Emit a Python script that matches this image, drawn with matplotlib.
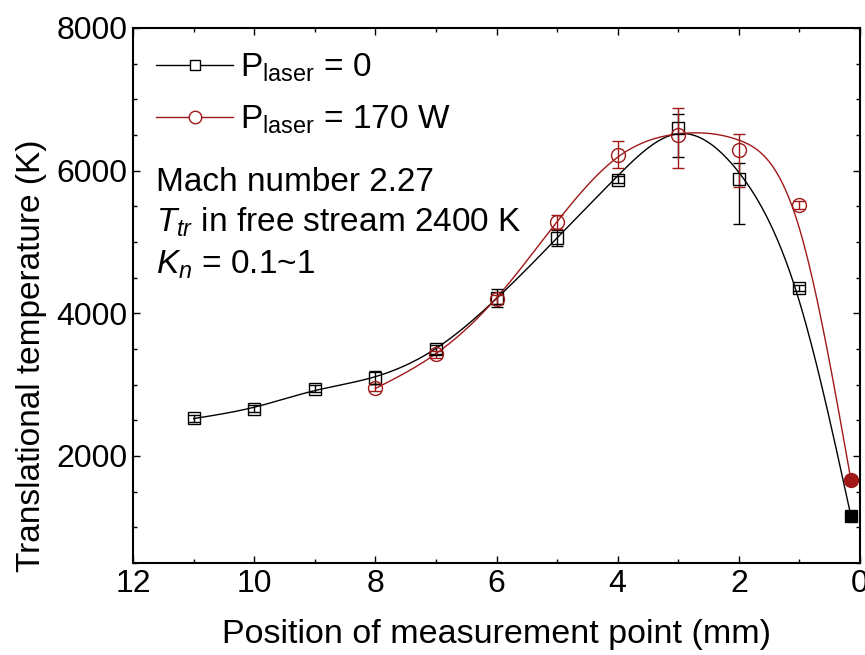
import matplotlib
matplotlib.use('Agg')
import matplotlib.pyplot as plt
import numpy as np
from matplotlib.ticker import MultipleLocator

plt.rcParams['font.family'] = ['Liberation Sans', 'DejaVu Sans']
plt.rcParams['mathtext.fontset'] = 'custom'
plt.rcParams['mathtext.rm'] = 'Liberation Sans'
plt.rcParams['mathtext.it'] = 'Liberation Sans:italic'

# position (mm), translational temperature (K), lower / upper error (K)
pos_off = [11, 10, 9, 8, 7, 6, 5, 4, 3, 2, 1, 0.15]
temp_off = [2530, 2665, 2945, 3100, 3493, 4211, 5056, 5873, 6596, 5888, 4352, 1160]
err_off_lo = [50, 50, 50, 85, 60, 120, 110, 50, 408, 638, 40, 70]
err_off_hi = [50, 50, 50, 85, 60, 130, 110, 50, 203, 225, 40, 70]

pos_on = [8, 7, 6, 5, 4, 3, 2, 1, 0.15]
temp_on = [2958, 3423, 4197, 5282, 6225, 6493, 6292, 5521, 1665]
err_on_lo = [50, 50, 60, 94, 190, 460, 527, 60, 60]
err_on_hi = [50, 50, 60, 94, 190, 390, 225, 60, 60]

RED = '#a01818'


def smooth_curve(x, y, lam, n=500):
  # penalised least squares on a fine grid (smoothing-spline style fit)
  x = np.asarray(x, float)
  y = np.asarray(y, float)
  xg = np.linspace(x.min(), x.max(), n)
  h = xg[1] - xg[0]
  B = np.zeros((len(x), n))
  for i, xi in enumerate(x):
    j = min(int((xi - xg[0]) / h), n - 2)
    t = (xi - xg[j]) / h
    B[i, j] = 1 - t
    B[i, j + 1] = t
  w = np.ones(len(x))
  w[np.argmin(x)] = 50.0
  W = np.diag(w)
  D = np.diff(np.eye(n), 2, axis=0) / h ** 2
  A = B.T @ W @ B + lam * h * D.T @ D
  z = np.linalg.solve(A, B.T @ W @ y)
  return xg, z


fig, ax = plt.subplots(figsize=(8.65, 6.55), dpi=100)
fig.subplots_adjust(left=0.1538, right=0.9942, bottom=0.1405, top=0.9573)

xs, ys = smooth_curve(pos_off, temp_off, 0.04)
ax.plot(xs, ys, color='k', lw=1)
xs, ys = smooth_curve(pos_on, temp_on, 0.035)
ax.plot(xs, ys, color=RED, lw=1)

yerr_off = [err_off_lo, err_off_hi]
yerr_on = [err_on_lo, err_on_hi]
ax.errorbar(pos_off[:-1], temp_off[:-1], yerr=[e[:-1] for e in yerr_off], fmt='s', ms=9,
            mfc='none', mec='k', ecolor='k', elinewidth=1, capsize=4.5, mew=1)
ax.errorbar(pos_off[-1:], temp_off[-1:], yerr=[e[-1:] for e in yerr_off], fmt='s', ms=9,
            mfc='k', mec='k', ecolor='k', elinewidth=1, capsize=4.5)
ax.errorbar(pos_on[:-1], temp_on[:-1], yerr=[e[:-1] for e in yerr_on], fmt='o', ms=10,
            mfc='none', mec=RED, ecolor=RED, elinewidth=1, capsize=4.5, mew=1)
ax.errorbar(pos_on[-1:], temp_on[-1:], yerr=[e[-1:] for e in yerr_on], fmt='o', ms=10,
            mfc=RED, mec=RED, ecolor=RED, elinewidth=1, capsize=4.5)

# legend handles
h1, = ax.plot([], [], color='k', lw=1, marker='s', ms=7, mfc='white', mec='k')
h2, = ax.plot([], [], color=RED, lw=1, marker='o', ms=9, mfc='white', mec=RED)
ax.legend([h1, h2], [r'P$_{\mathrm{laser}}$ = 0', r'P$_{\mathrm{laser}}$ = 170 W'],
          loc='upper left', frameon=False, fontsize=24, handlelength=2.3,
          handletextpad=0.2, labelspacing=0.6, borderaxespad=0.3,
          bbox_to_anchor=(0.0, 1.0))

ax.text(0.031, 0.711, 'Mach number 2.27', transform=ax.transAxes, fontsize=24,
        va='center', ha='left')
ax.text(0.031, 0.636, r'$T_{tr}$ in free stream 2400 K', transform=ax.transAxes,
        fontsize=24, va='center', ha='left')
ax.text(0.031, 0.557, r'$K_{n}$ = 0.1~1', transform=ax.transAxes,
        fontsize=24, va='center', ha='left')

ax.set_xlim(12, 0)
ax.set_ylim(500, 8000)
ax.xaxis.set_major_locator(MultipleLocator(2))
ax.xaxis.set_minor_locator(MultipleLocator(1))
ax.yaxis.set_major_locator(MultipleLocator(2000))
ax.yaxis.set_minor_locator(MultipleLocator(500))
ax.tick_params(which='both', direction='in', top=True, right=True,
               labelsize=23, width=1)
ax.tick_params(which='major', length=5, pad=4)
ax.tick_params(which='minor', length=3)
for s in ax.spines.values():
  s.set_linewidth(1.5)

ax.set_xlabel('Position of measurement point (mm)', fontsize=24.5, labelpad=15)
ax.set_ylabel('Translational temperature (K)', fontsize=24, labelpad=7)
ax.yaxis.label.set_y(0.387)

fig.savefig('out.png', dpi=100)
